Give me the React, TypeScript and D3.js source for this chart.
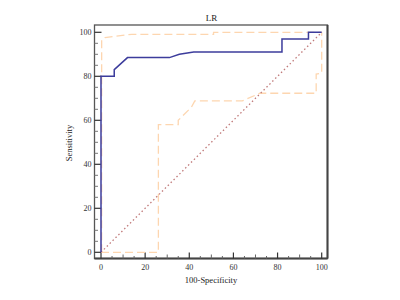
import React from "react";
import * as d3 from "d3";

const rocX = [0, 0, 6, 6, 12, 31, 35.5, 42, 82, 82, 94, 94, 100];
const rocY = [0, 80, 80, 83, 88.5, 88.5, 90, 91, 91, 97, 97, 100, 100];

const upperX = [0.3, 0.3, 1.8, 14, 51, 51, 100];
const upperY = [0, 96.5, 97.6, 99.1, 99.1, 100, 100];

const lowerX = [0, 26, 26, 35, 35, 41, 42.5, 64, 72, 97.5, 97.5, 100, 100];
const lowerY = [0, 0, 58, 58, 60, 66, 68.8, 68.8, 72.3, 72.3, 81, 81.5, 100];

const diagX = [0, 100];
const diagY = [0, 100];

const majorTicks = [0, 20, 40, 60, 80, 100];
const minorTicks = d3.range(0, 101, 5).filter((v) => v % 20 !== 0);

const title = "LR";
const xLabel = "100-Specificity";
const yLabel = "Sensitivity";

export default function App() {
  const x = d3.scaleLinear().domain([0, 100]).range([101, 321.7]);
  const y = d3.scaleLinear().domain([0, 100]).range([252.3, 32.3]);
  const frame = { l: 94.5, t: 25, r: 327.5, b: 258.5 };

  const mk = (xs: number[], ys: number[]) =>
    d3
      .line<number>()
      .x((_, i) => x(xs[i]))
      .y((_, i) => y(ys[i]))(xs) || "";

  const serif = "'Liberation Serif', 'DejaVu Serif', serif";

  return (
    <svg
      width={400}
      height={300}
      style={{ position: "absolute", left: 0, top: 0, background: "#fff" }}
    >
      <text x={211.5} y={21} textAnchor="middle" fontFamily={serif} fontSize={9} fill="#222">
        {title}
      </text>
      {/* frame */}
      <rect
        x={frame.l}
        y={frame.t}
        width={frame.r - frame.l}
        height={frame.b - frame.t}
        fill="none"
        stroke="#555"
        strokeWidth={1.3}
      />
      <line x1={frame.r} x2={frame.r} y1={frame.t} y2={frame.b} stroke="#444" strokeWidth={2} />
      <line x1={frame.l} x2={frame.r} y1={frame.b} y2={frame.b} stroke="#444" strokeWidth={2} />

      {/* y ticks */}
      {majorTicks.map((v) => (
        <g key={"ym" + v}>
          <line x1={frame.l} x2={frame.l + 7} y1={y(v)} y2={y(v)} stroke="#333" strokeWidth={1.2} />
          <text x={91.5} y={y(v) + 2.8} textAnchor="end" fontFamily={serif} fontSize={8} fill="#333">
            {v}
          </text>
        </g>
      ))}
      {minorTicks.map((v) => (
        <line key={"yn" + v} x1={frame.l} x2={frame.l + 3.5} y1={y(v)} y2={y(v)} stroke="#777" strokeWidth={1} />
      ))}
      {/* x ticks */}
      {majorTicks.map((v) => (
        <g key={"xm" + v}>
          <line x1={x(v)} x2={x(v)} y1={frame.b} y2={frame.b - 6} stroke="#333" strokeWidth={1.2} />
          <text x={x(v)} y={269.5} textAnchor="middle" fontFamily={serif} fontSize={8} fill="#333">
            {v}
          </text>
        </g>
      ))}
      {minorTicks.map((v) => (
        <line key={"xn" + v} x1={x(v)} x2={x(v)} y1={frame.b} y2={frame.b - (v % 10 === 0 ? 4 : 2.5)} stroke="#666" strokeWidth={1} />
      ))}

      <text x={211} y={283} textAnchor="middle" fontFamily={serif} fontSize={8.5} fill="#222">
        {xLabel}
      </text>
      <text
        transform={`translate(71.5,143) rotate(-90)`}
        textAnchor="middle"
        fontFamily={serif}
        fontSize={8.5}
        fill="#222"
      >
        {yLabel}
      </text>

      {/* confidence bounds */}
      <path d={mk(lowerX, lowerY)} fill="none" stroke="#fdd6b0" strokeWidth={1.3} strokeDasharray="8,4" />
      <path d={mk(upperX, upperY)} fill="none" stroke="#fdd6b0" strokeWidth={1.3} strokeDasharray="8,4" />
      {/* diagonal */}
      <path d={mk(diagX, diagY)} fill="none" stroke="#c07a7a" strokeWidth={1.3} strokeDasharray="1.5,2.6" />
      {/* ROC */}
      <path d={mk(rocX, rocY)} fill="none" stroke="#3c3c9c" strokeWidth={1.5} />
    </svg>
  );
}
